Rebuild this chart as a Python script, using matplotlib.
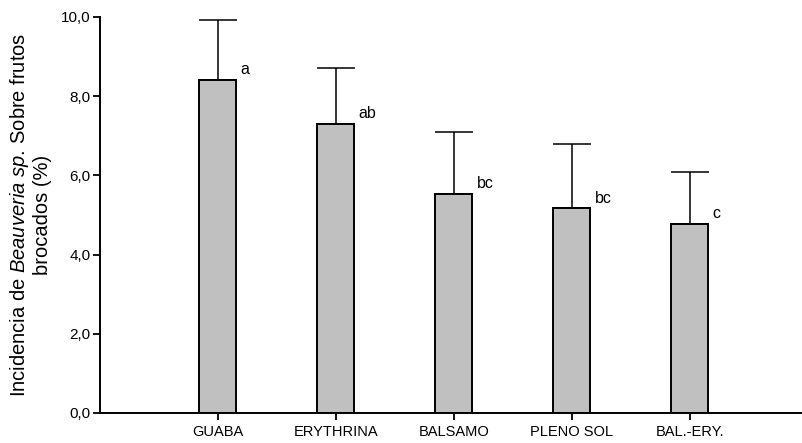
import matplotlib
matplotlib.use("Agg")
import matplotlib.pyplot as plt
from matplotlib.ticker import FuncFormatter

plt.rcParams['font.family'] = ['Liberation Sans', 'DejaVu Sans']
plt.rcParams['mathtext.fontset'] = 'custom'
plt.rcParams['mathtext.rm'] = 'Liberation Sans'
plt.rcParams['mathtext.it'] = 'Liberation Sans:italic'

categories = ['GUABA', 'ERYTHRINA', 'BALSAMO', 'PLENO SOL', 'BAL.-ERY.']
means = [8.41, 7.30, 5.53, 5.17, 4.78]
errors = [1.51, 1.41, 1.57, 1.62, 1.31]
letters = ['a', 'ab', 'bc', 'bc', 'c']

fig = plt.figure(figsize=(8.03, 4.43), dpi=100)
ax = fig.add_axes([100 / 803, 30 / 443, 703 / 803, 396 / 443])

x = list(range(len(categories)))
ax.bar(x, means, width=0.313, color='#c0c0c0', edgecolor='black', linewidth=1.4, zorder=2)
ax.errorbar(x, means, yerr=[[0] * len(errors), errors], fmt='none', ecolor='black',
            elinewidth=1.1, capsize=13.7, capthick=1.1, zorder=1)

for xi, m, lab in zip(x, means, letters):
    ax.annotate(lab, (xi + 0.1565, m), xytext=(3, 4), textcoords='offset points',
                ha='left', va='baseline', fontsize=11.5)

ax.set_xlim(-1, 4.96)
ax.set_ylim(0, 10)
ax.set_xticks(x)
ax.set_xticklabels(categories, fontsize=10.5)
ax.set_yticks([0, 2, 4, 6, 8, 10])
ax.yaxis.set_major_formatter(FuncFormatter(lambda v, p: f"{v:.1f}".replace('.', ',')))
ax.tick_params(axis='y', labelsize=11, length=5, width=1.3, direction='out', pad=2)
ax.tick_params(axis='x', length=5, width=1.3, direction='out', pad=4)

for s in ['top', 'right']:
    ax.spines[s].set_visible(False)
for s in ['left', 'bottom']:
    ax.spines[s].set_linewidth(1.4)

ax.set_ylabel('Incidencia de $\\it{Beauveria\\ sp.}\\,$Sobre frutos\nbrocados (%)',
              fontsize=14.5, linespacing=1.15, labelpad=6)

fig.savefig('out.png', dpi=100)
